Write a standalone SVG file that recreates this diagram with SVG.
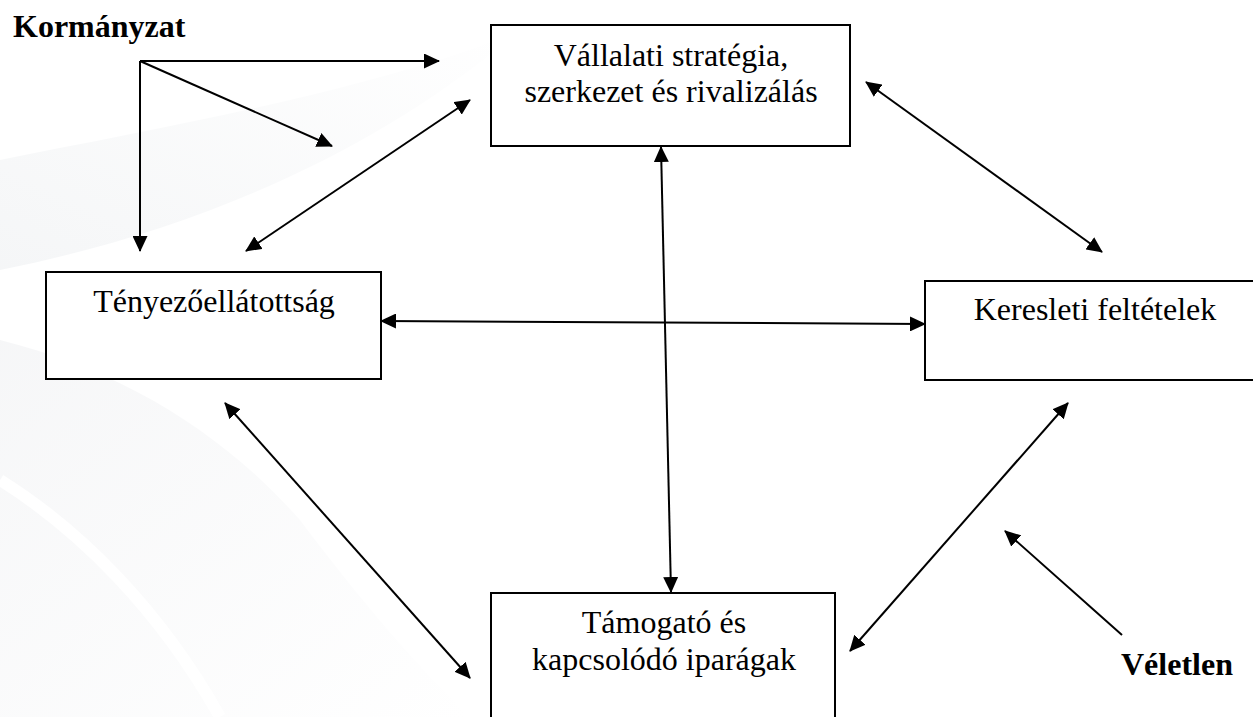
<svg xmlns="http://www.w3.org/2000/svg" width="1253" height="717" viewBox="0 0 1253 717">
  <style>
    .box { fill: #ffffff; stroke: #000000; stroke-width: 2; }
    .lbl { font-family: "Liberation Serif", "Times New Roman", serif; font-size: 32px; fill: #000000; text-anchor: middle; }
    .bold { font-family: "Liberation Serif", "Times New Roman", serif; font-size: 32px; font-weight: bold; fill: #000000; }
    .conn line { stroke: #000000; stroke-width: 2; }
    .one { marker-end: url(#ah); }
    .two { marker-start: url(#ah); marker-end: url(#ah); }
  </style>
  <defs>
    <marker id="ah" markerUnits="userSpaceOnUse" markerWidth="16" markerHeight="15" refX="15" refY="7.5" orient="auto-start-reverse" viewBox="0 0 16 15">
      <path d="M0,0 L16,7.5 L0,15 Z" fill="#000000"/>
    </marker>
    <linearGradient id="bgA" x1="0" y1="1" x2="1" y2="0">
      <stop offset="0" stop-color="#eef0f2"/>
      <stop offset="1" stop-color="#ffffff"/>
    </linearGradient>
    <linearGradient id="bgB" x1="0" y1="0" x2="1" y2="1">
      <stop offset="0" stop-color="#f0f1f3"/>
      <stop offset="1" stop-color="#ffffff"/>
    </linearGradient>
  </defs>

  <g id="background">
    <rect x="0" y="0" width="1253" height="717" fill="#ffffff"/>
    <path d="M0,160 C150,130 320,100 470,50 L520,30 C380,150 200,230 0,270 Z" fill="url(#bgA)" opacity="0.6"/>
    <path d="M0,340 C120,370 220,430 300,520 C360,600 420,670 470,717 L0,717 Z" fill="url(#bgB)" opacity="0.6"/>
    <path d="M0,480 C80,530 160,610 220,717" fill="none" stroke="#ffffff" stroke-width="12" opacity="0.9"/>
  </g>

  <g id="label-kormanyzat">
    <text class="bold" x="13" y="37">Kormányzat</text>
  </g>

  <g id="label-veletlen">
    <text class="bold" x="1121" y="675">Véletlen</text>
  </g>

  <g id="node-vallalati">
    <rect class="box" x="491" y="25" width="359" height="121"/>
    <text class="lbl" x="671" y="66">Vállalati stratégia,</text>
    <text class="lbl" x="671" y="102">szerkezet és rivalizálás</text>
  </g>

  <g id="node-tenyezo">
    <rect class="box" x="46" y="272" width="335" height="107"/>
    <text class="lbl" x="214" y="312">Tényezőellátottság</text>
  </g>

  <g id="node-keresleti">
    <rect class="box" x="925" y="281" width="345" height="99"/>
    <text class="lbl" x="1095" y="320">Keresleti feltételek</text>
  </g>

  <g id="node-tamogato">
    <rect class="box" x="491" y="593" width="344" height="140"/>
    <text class="lbl" x="664" y="633">Támogató és</text>
    <text class="lbl" x="664" y="670">kapcsolódó iparágak</text>
  </g>

  <g id="connectors" class="conn">
    <line class="one" x1="140" y1="61" x2="439" y2="61"/>
    <line class="one" x1="140" y1="61" x2="332" y2="146"/>
    <line class="one" x1="140" y1="61" x2="140" y2="251"/>
    <line class="two" x1="246" y1="251" x2="470" y2="100"/>
    <line class="two" x1="866" y1="82" x2="1102" y2="252"/>
    <line class="two" x1="381" y1="321" x2="925" y2="324"/>
    <line class="two" x1="661" y1="147" x2="671" y2="592"/>
    <line class="two" x1="225" y1="403" x2="470" y2="678"/>
    <line class="two" x1="850" y1="651" x2="1068" y2="403"/>
    <line class="one" x1="1122" y1="635" x2="1005" y2="531"/>
  </g>
</svg>
